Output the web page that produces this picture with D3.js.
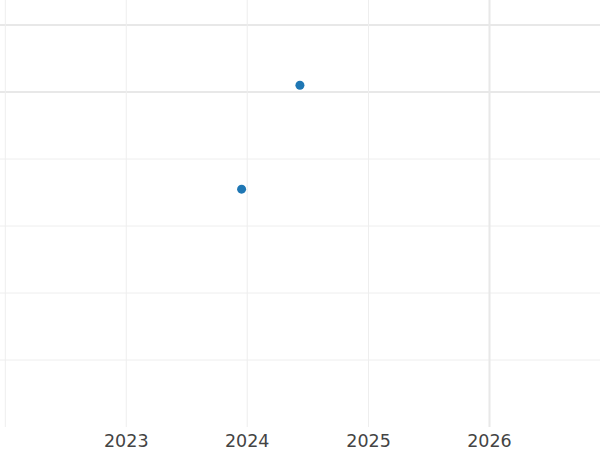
<!DOCTYPE html>
<html>
<head>
<meta charset="utf-8">
<script src="https://cdn.jsdelivr.net/npm/d3@7"></script>
<style>
  body { margin: 0; background: #fff; }
  svg { display: block; font-family: "DejaVu Sans", sans-serif; }
</style>
</head>
<body>
<svg width="600" height="450"></svg>
<script>
// data
var dates = ["2023-12-15", "2024-06-08"];
var values = [3.55, 5.1];
var xTickYears = [2022, 2023, 2024, 2025, 2026];
var xLabelYears = [2023, 2024, 2025, 2026];
var yTicks = [1, 2, 3, 4, 5, 6];

var parseDate = d3.timeParse("%Y-%m-%d");
var data = dates.map((d, i) => ({date: parseDate(d), value: values[i]}));

var svg = d3.select("svg"),
    width = 600,
    plotBottom = 427;

var x = d3.scaleTime()
    .domain([new Date(2022, 0, 1), new Date(2026, 0, 1)])
    .range([5.3, 489.5]);

var y = d3.scaleLinear()
    .domain([0, 6])
    .range([plotBottom, 25]);

var grid = svg.append("g");

// horizontal grid
grid.selectAll("line.h")
  .data(yTicks)
  .enter().append("line")
    .attr("class", "h")
    .attr("x1", 0)
    .attr("x2", width)
    .attr("y1", d => y(d))
    .attr("y2", d => y(d))
    .attr("stroke", d => d >= 5 ? "#e8e8e8" : "#eeeeee")
    .attr("stroke-width", d => d >= 5 ? 2 : 1);

// vertical grid
grid.selectAll("line.v")
  .data(xTickYears)
  .enter().append("line")
    .attr("class", "v")
    .attr("x1", d => x(new Date(d, 0, 1)))
    .attr("x2", d => x(new Date(d, 0, 1)))
    .attr("y1", 0)
    .attr("y2", plotBottom)
    .attr("stroke", d => d == 2026 ? "#e8e8e8" : "#eeeeee")
    .attr("stroke-width", d => d == 2026 ? 2 : 1);

// x labels
svg.append("g")
  .selectAll("text")
  .data(xLabelYears)
  .enter().append("text")
    .attr("x", d => x(new Date(d, 0, 1)))
    .attr("y", 447)
    .attr("text-anchor", "middle")
    .attr("fill", "#444")
    .style("font-size", "17.5px")
    .text(d => d);

// points
svg.append("g")
  .selectAll("circle")
  .data(data)
  .enter().append("circle")
    .attr("cx", d => x(d.date))
    .attr("cy", d => y(d.value))
    .attr("r", 4.5)
    .attr("fill", "#1f77b4");
</script>
</body>
</html>
